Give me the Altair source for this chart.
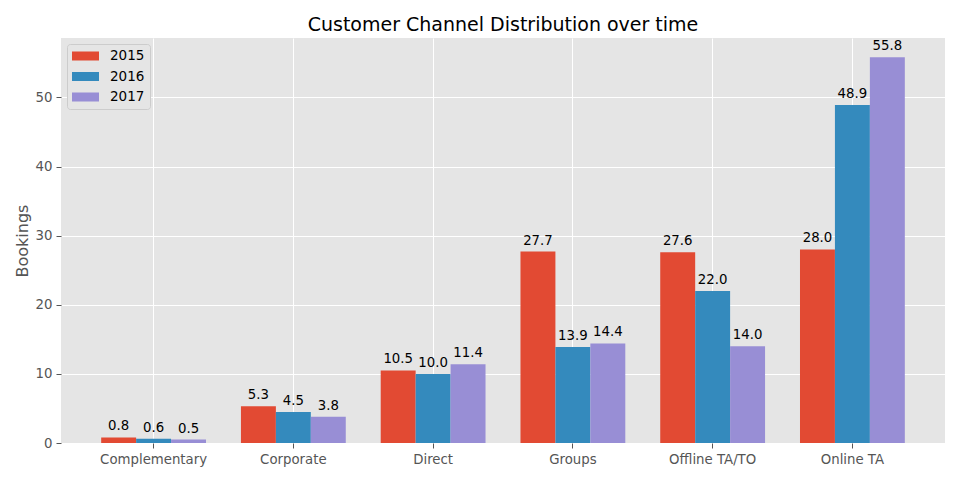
import altair as alt
import pandas as pd

categories = ["Complementary", "Corporate", "Direct", "Groups", "Offline TA/TO", "Online TA"]
years = ["2015", "2016", "2017"]
v2015 = [0.8, 5.3, 10.5, 27.7, 27.6, 28.0]
v2016 = [0.6, 4.5, 10.0, 13.9, 22.0, 48.9]
v2017 = [0.5, 3.8, 11.4, 14.4, 14.0, 55.8]
colors = ["#E24A33", "#348ABD", "#988ED5"]
y_ticks = [0, 10, 20, 30, 40, 50]

rows = []
for yr, vals in zip(years, [v2015, v2016, v2017]):
    for c, v in zip(categories, vals):
        rows.append({"channel": c, "year": yr, "bookings": v})
df = pd.DataFrame(rows)

FONT = "DejaVu Sans"

x_enc = alt.X(
    "channel:N",
    sort=categories,
    title=None,
    scale=alt.Scale(paddingInner=0.25, paddingOuter=0.2875),
    axis=alt.Axis(labelAngle=0, bandPosition=0.5),
)
xoff = alt.XOffset("year:N", sort=years, scale=alt.Scale(paddingInner=0, paddingOuter=0))
y_enc = alt.Y(
    "bookings:Q",
    title="Bookings",
    scale=alt.Scale(domain=[0, 58.59], nice=False, zero=True),
    axis=alt.Axis(values=y_ticks),
)

bars = alt.Chart(df).mark_bar().encode(
    x=x_enc,
    xOffset=xoff,
    y=y_enc,
    color=alt.Color(
        "year:N",
        sort=years,
        scale=alt.Scale(domain=years, range=colors),
        legend=alt.Legend(title=None, orient="top-left"),
    ),
)

labels = alt.Chart(df).mark_text(
    font=FONT, fontSize=13.3, color="black", baseline="alphabetic", dy=-7
).encode(
    x=x_enc,
    xOffset=xoff,
    y=y_enc,
    text=alt.Text("bookings:Q", format=".1f"),
)

chart = (
    alt.layer(bars, labels)
    .properties(
        width=884,
        height=405,
        title=alt.TitleParams(
            "Customer Channel Distribution over time",
            font=FONT, fontSize=19, fontWeight="normal", color="black",
            anchor="middle", baseline="alphabetic", offset=9, dy=21,
        ),
        autosize=alt.AutoSizeParams(type="none"),
        padding={"left": 61, "top": 38, "right": 15, "bottom": 37},
        background="white",
    )
    .configure_view(fill="#E5E5E5", stroke=None)
    .configure_axis(
        domain=False,
        grid=True,
        gridColor="white",
        gridWidth=1,
        tickColor="#555555",
        tickSize=5,
        tickWidth=1,
        labelFont=FONT,
        labelFontSize=13.3,
        labelColor="#555555",
        labelPadding=4,
        titleFont=FONT,
        titleFontSize=16,
        titleFontWeight="normal",
        titleColor="#555555",
        titlePadding=5,
    )
    .configure_legend(
        fillColor="#E5E5E5",
        strokeColor="#CCCCCC",
        cornerRadius=3,
        padding=5,
        offset=6,
        labelFont=FONT,
        labelFontSize=13.5,
        labelColor="black",
        labelOffset=11,
        symbolType="M-1,-0.34H1V0.34H-1Z",
        symbolSize=729,
        symbolStrokeWidth=0,
        symbolOpacity=1,
        clipHeight=14,
        rowPadding=6.5,
    )
)

chart.save("out.html", embed_options={"renderer": "svg", "actions": False})
